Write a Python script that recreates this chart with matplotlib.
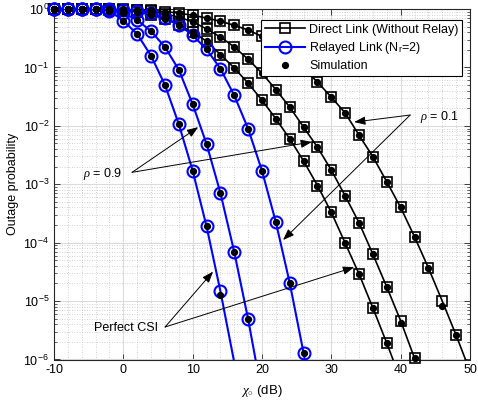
import matplotlib
matplotlib.use("Agg")
import matplotlib.pyplot as plt
from matplotlib.lines import Line2D

plt.rcParams.update({
    "font.family": ["Liberation Sans", "DejaVu Sans"],
    "font.size": 9,
    "axes.unicode_minus": False,
    "mathtext.fontset": "custom",
    "mathtext.rm": "Liberation Sans",
    "mathtext.sf": "Liberation Sans",
    "mathtext.it": "Liberation Serif:italic",
    "mathtext.bf": "Liberation Sans:bold",
})

# SNR grid (dB)
snr_db = [-10, -8, -6, -4, -2, 0, 2, 4, 6, 8, 10, 12, 14, 16, 18, 20,
          22, 24, 26, 28, 30, 32, 34, 36, 38, 40, 42, 44, 46, 48, 50]

# Analytical outage probability, direct link (no relay)
direct_perfect = [0.999, 0.997, 0.993, 0.985, 0.970, 0.944, 0.891, 0.794, 0.676, 0.537,
                  0.398, 0.282, 0.166, 0.098, 0.0537, 0.0275, 0.0132, 6.0e-3, 2.5e-3, 9.5e-4,
                  3.3e-4, 9.8e-5, 2.9e-5, 7.6e-6, 1.9e-6, 4.5e-7]
direct_rho09 = [1.0, 0.999, 0.998, 0.995, 0.988, 0.977, 0.955, 0.912, 0.832, 0.724,
                0.603, 0.457, 0.331, 0.224, 0.138, 0.0794, 0.0417, 0.0209, 9.5e-3, 4.3e-3,
                1.74e-3, 6.3e-4, 2.19e-4, 6.3e-5, 1.74e-5, 4.6e-6, 1.05e-6, 2.5e-7]
direct_rho01 = [1.0, 1.0, 0.999, 0.997, 0.990, 0.983, 0.970, 0.950, 0.905, 0.850,
                0.780, 0.700, 0.617, 0.525, 0.437, 0.339, 0.240, 0.158, 0.0955, 0.0562,
                0.0309, 0.0166, 6.9e-3, 2.95e-3, 1.10e-3, 4.0e-4, 1.26e-4, 3.7e-5, 1.0e-5,
                2.6e-6, 6.3e-7]

# Analytical outage probability, relayed link (N_r = 2)
relay_perfect = [1.0, 1.0, 0.998, 0.985, 0.93, 0.63, 0.372, 0.158, 0.0501, 0.0107,
                 1.70e-3, 1.91e-4, 1.48e-5, 8.9e-7]
relay_rho09 = [1.0, 1.0, 0.999, 0.995, 0.977, 0.851, 0.646, 0.417, 0.224, 0.0912,
               0.0234, 4.9e-3, 7.1e-4, 6.9e-5, 4.9e-6, 2.5e-7]
relay_rho01 = [1.0, 1.0, 0.999, 0.997, 0.99, 0.975, 0.94, 0.85, 0.71, 0.54,
               0.355, 0.204, 0.0955, 0.0331, 8.9e-3, 1.70e-3, 2.24e-4, 2.04e-5, 1.29e-6, 6e-8]

# Monte Carlo simulation results
sim_direct_perfect = [0.999, 0.997, 0.993, 0.985, 0.970, 0.944, 0.891, 0.794, 0.676, 0.537,
                      0.398, 0.282, 0.166, 0.098, 0.0537, 0.0275, 0.0132, 6.0e-3, 2.5e-3, 9.5e-4,
                      3.3e-4, 9.8e-5, 2.9e-5, 7.6e-6, 1.9e-6]
sim_direct_rho09 = [1.0, 0.999, 0.998, 0.995, 0.988, 0.977, 0.955, 0.912, 0.832, 0.724,
                    0.603, 0.457, 0.331, 0.224, 0.138, 0.0794, 0.0417, 0.0209, 9.5e-3, 4.3e-3,
                    1.74e-3, 6.3e-4, 2.19e-4, 6.3e-5, 1.74e-5, 4.2e-6, 1.05e-6]
sim_direct_rho01 = [1.0, 1.0, 0.999, 0.997, 0.990, 0.983, 0.970, 0.950, 0.905, 0.850,
                    0.780, 0.700, 0.617, 0.525, 0.437, 0.339, 0.240, 0.158, 0.0955, 0.0562,
                    0.0309, 0.0166, 6.9e-3, 2.95e-3, 1.10e-3, 4.0e-4, 1.26e-4, 3.7e-5, 8.1e-6,
                    2.6e-6]
sim_relay_perfect = [1.0, 1.0, 0.998, 0.985, 0.93, 0.63, 0.372, 0.158, 0.0501, 0.0107,
                     1.70e-3, 1.91e-4, 1.26e-5]
sim_relay_rho09 = [1.0, 1.0, 0.999, 0.995, 0.977, 0.851, 0.646, 0.417, 0.224, 0.0912,
                   0.0234, 4.9e-3, 7.1e-4, 6.9e-5, 4.9e-6]
sim_relay_rho01 = [1.0, 1.0, 0.999, 0.997, 0.99, 0.975, 0.94, 0.85, 0.71, 0.54,
                   0.355, 0.204, 0.0955, 0.0331, 8.9e-3, 1.70e-3, 2.24e-4, 2.04e-5, 1.29e-6]

YMIN, YMAX = 1e-6, 1.0
BLUE = (0.0, 0.0, 1.0)

fig = plt.figure(figsize=(4.78, 4.07), dpi=100)
ax = fig.add_axes([54 / 478, 1 - 359.5 / 407, 416 / 478, 350.5 / 407])
ax.set_yscale("log")
ax.set_xlim(-10, 50)
ax.set_ylim(YMIN, YMAX)


def in_range(vals):
    xs = snr_db[:len(vals)]
    pts = [(x, v) for x, v in zip(xs, vals) if YMIN <= v <= YMAX]
    return [p[0] for p in pts], [p[1] for p in pts]


SQ_MS, SQ_MEW = 6.6, 1.2
CI_MS, CI_MEW = 8.6, 1.5
DOT_MS = 4.2

sq_style = dict(marker="s", ms=SQ_MS, mfc="none", mec="k", mew=SQ_MEW, ls="none")
ci_style = dict(marker="o", ms=CI_MS, mfc="none", mec=BLUE, mew=CI_MEW, ls="none")

for vals in (direct_perfect, direct_rho09, direct_rho01):
    ax.plot(snr_db[:len(vals)], vals, color="k", lw=1.2, zorder=3)
    mx, my = in_range(vals)
    ax.plot(mx, my, clip_on=False, zorder=4, **sq_style)

for vals in (relay_perfect, relay_rho09, relay_rho01):
    ax.plot(snr_db[:len(vals)], vals, color=BLUE, lw=1.5, zorder=5)
    mx, my = in_range(vals)
    ax.plot(mx, my, clip_on=False, zorder=6, **ci_style)

for vals in (sim_direct_perfect, sim_direct_rho09, sim_direct_rho01,
             sim_relay_perfect, sim_relay_rho09, sim_relay_rho01):
    mx, my = in_range(vals)
    ax.plot(mx, my, "o", color="k", ms=DOT_MS, ls="none", clip_on=False, zorder=7)

# grid and axes styling
ax.set_xticks([-10, 0, 10, 20, 30, 40, 50])
ax.set_xticks(list(range(-10, 51, 2)), minor=True)
ax.grid(True, which="major", color="#dcdcdc", lw=0.8, ls="-", zorder=0)
ax.grid(True, which="minor", color="#c4c4c4", lw=0.6, ls=(0, (1, 2)), zorder=0)
ax.set_axisbelow(True)
ax.tick_params(which="both", direction="in", top=True, right=True, colors="#262626",
               labelcolor="k", labelsize=9)
ax.tick_params(which="major", length=4, width=0.6)
ax.tick_params(which="minor", length=2, width=0.5)
ax.tick_params(axis="x", which="minor", length=0)
for s in ax.spines.values():
    s.set_color("#262626")
    s.set_linewidth(0.8)

ax.set_xlabel(r"$\chi_{\circ}$ (dB)", fontsize=9.5, labelpad=5)
ax.set_ylabel("Outage probability", fontsize=9, labelpad=3)

# annotations
arrow = dict(arrowstyle="-|>,head_length=0.75,head_width=0.28", color="k", lw=0.7,
             shrinkA=0, shrinkB=0)

ax.text(-0.19, 1.5e-3, r"$\rho$ = 0.9", ha="right", va="center", fontsize=9)
for tip in [(10.8, 9.5e-3), (27.2, 5.3e-3)]:
    ax.annotate("", xy=tip, xytext=(1.26, 1.6e-3), arrowprops=arrow, zorder=8)

ax.text(5.0, 3.5e-6, "Perfect CSI", ha="right", va="center", fontsize=9)
for tip in [(12.94, 3.2e-5), (33.29, 3.8e-5)]:
    ax.annotate("", xy=tip, xytext=(6.02, 3.6e-6), arrowprops=arrow, zorder=8)

ax.text(42.8, 1.41e-2, r"$\rho$ = 0.1", ha="left", va="center", fontsize=9)
for tip in [(33.29, 1.16e-2), (23.04, 1.11e-4)]:
    ax.annotate("", xy=tip, xytext=(41.37, 1.53e-2), arrowprops=arrow, zorder=8)

# legend
handles = [
    Line2D([], [], color="k", lw=1.2, marker="s", ms=SQ_MS, mfc="none", mew=SQ_MEW),
    Line2D([], [], color=BLUE, lw=1.5, marker="o", ms=CI_MS, mfc="none", mew=CI_MEW),
    Line2D([], [], color="k", marker="o", ms=DOT_MS, ls="none"),
]
labels = ["Direct Link (Without Relay)", r"Relayed Link (N$_{\rm r}$=2)", "Simulation"]
leg = ax.legend(handles, labels, loc="upper right", bbox_to_anchor=(0.981, 0.969),
                borderaxespad=0, frameon=True, fancybox=False, edgecolor="k",
                framealpha=1, handlelength=3.2, handletextpad=0.3, labelspacing=0.35,
                borderpad=0.3, fontsize=9)
leg.get_frame().set_linewidth(0.8)
leg.set_zorder(10)

fig.savefig("out.png", dpi=100)
